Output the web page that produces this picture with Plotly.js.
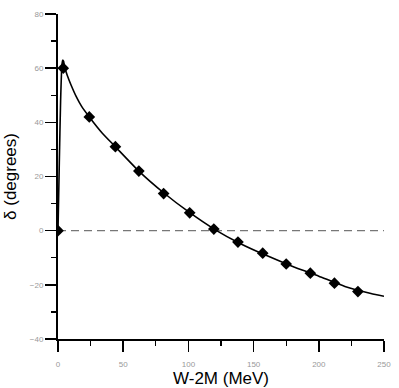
<!DOCTYPE html>
<html>
<head>
<meta charset="utf-8">
<script src="https://cdn.plot.ly/plotly-3.0.1.min.js"></script>
<style>
  html, body { margin: 0; padding: 0; background: #fff; }
  #chart { width: 399px; height: 388px; }
</style>
</head>
<body>
<div id="chart"></div>
<script>
    // measured phase shifts (diamonds)
    var dataX = [0, 4, 24, 44, 62, 81, 101, 119.5, 138, 157, 175, 193.5, 212, 230];
    var dataY = [0, 60, 42, 31, 22, 13.7, 6.6, 0.6, -4.2, -8.3, -12.3, -15.7, -19.4, -22.5];

    // fitted curve
    var fitX = [0, 1, 2, 3, 3.6, 4.3, 5, 7, 10, 14, 18, 24, 34, 44, 62, 81, 100, 120, 140, 160, 180, 200, 220, 240, 250];
    var fitY = [0, 25, 48, 61, 63, 62.5, 60.5, 57.5, 53.8, 49.5, 46, 42, 36, 31, 22, 14, 7, 0.5, -4.8, -9.2, -13.2, -16.8, -20.6, -23.2, -24.2];

    var zeroX = [0, 250];
    var zeroY = [0, 0];

    var fit = {
        x: fitX,
        y: fitY,
        mode: 'lines',
        type: 'scatter',
        line: { color: '#000', width: 1.6, shape: 'spline', smoothing: 0.5 },
        hoverinfo: 'skip',
    };

    var zero = {
        x: zeroX,
        y: zeroY,
        mode: 'lines',
        type: 'scatter',
        line: { color: '#777', width: 1.4, dash: '8px,5px' },
    };

    var points = {
        x: dataX,
        y: dataY,
        mode: 'markers',
        type: 'scatter',
        marker: { symbol: 'diamond', size: 9, color: '#000' },
    };

    var layout = {
        width: 399,
        height: 388,
        showlegend: false,
        paper_bgcolor: '#fff',
        plot_bgcolor: '#fff',
        margin: { l: 58, r: 15, t: 14, b: 49 },
        font: { family: 'Liberation Sans, Arial, sans-serif' },
        xaxis: {
            range: [0, 250],
            tickvals: [0, 50, 100, 150, 200, 250],
            ticks: 'outside',
            ticklen: 11,
            tickwidth: 1.5,
            tickcolor: '#000',
            ticklabelstandoff: 5,
            minor: { tickvals: [25, 75, 125, 175, 225], ticks: 'outside', ticklen: 5, tickcolor: '#000', tickwidth: 1.2 },
            showline: true,
            linecolor: '#000',
            linewidth: 2,
            showgrid: false,
            zeroline: false,
            tickfont: { size: 8, color: '#999' },
            title: { text: 'W-2M (MeV)', font: { size: 17, color: '#000' }, standoff: 0 },
        },
        yaxis: {
            range: [-40, 80],
            tickvals: [-40, -20, 0, 20, 40, 60, 80],
            ticks: 'outside',
            ticklen: 11,
            tickwidth: 1.5,
            tickcolor: '#000',
            minor: { tickvals: [-30, -10, 10, 30, 50, 70], ticks: 'outside', ticklen: 5, tickcolor: '#000', tickwidth: 1.2 },
            showline: true,
            linecolor: '#000',
            linewidth: 2,
            showgrid: false,
            zeroline: false,
            tickfont: { size: 8, color: '#999' },
            title: { text: 'δ (degrees)', font: { size: 17, color: '#000' }, standoff: 9 },
        },
    };

    Plotly.newPlot(document.getElementById('chart'), [zero, fit, points], layout, { displayModeBar: false, staticPlot: true });
</script>
</body>
</html>
